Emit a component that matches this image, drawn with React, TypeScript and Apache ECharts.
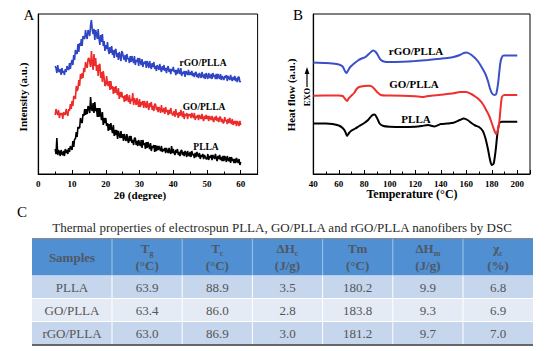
import React, { useEffect, useRef } from 'react';
import * as echarts from 'echarts';

// ---------- Panel A: XRD (2θ in degrees, intensity a.u.) ----------
const twoTheta = [
  5, 5.25, 5.5, 5.75, 6, 6.25, 6.5, 6.75, 7, 7.25, 7.5, 7.75, 8, 8.25, 8.5, 8.75, 9, 9.25, 9.5, 9.75,
  10, 10.25, 10.5, 10.75, 11, 11.25, 11.5, 11.75, 12, 12.25, 12.5, 12.75, 13, 13.25, 13.5, 13.75, 14, 14.25, 14.5, 14.75,
  15, 15.25, 15.5, 15.75, 16, 16.25, 16.5, 16.75, 17, 17.25, 17.5, 17.75, 18, 18.25, 18.5, 18.75, 19, 19.25, 19.5, 19.75,
  20, 20.25, 20.5, 20.75, 21, 21.25, 21.5, 21.75, 22, 22.25, 22.5, 22.75, 23, 23.25, 23.5, 23.75, 24, 24.25, 24.5, 24.75,
  25, 25.25, 25.5, 25.75, 26, 26.25, 26.5, 26.75, 27, 27.25, 27.5, 27.75, 28, 28.25, 28.5, 28.75, 29, 29.25, 29.5, 29.75,
  30, 30.25, 30.5, 30.75, 31, 31.25, 31.5, 31.75, 32, 32.25, 32.5, 32.75, 33, 33.25, 33.5, 33.75, 34, 34.25, 34.5, 34.75,
  35, 35.25, 35.5, 35.75, 36, 36.25, 36.5, 36.75, 37, 37.25, 37.5, 37.75, 38, 38.25, 38.5, 38.75, 39, 39.25, 39.5, 39.75,
  40, 40.25, 40.5, 40.75, 41, 41.25, 41.5, 41.75, 42, 42.25, 42.5, 42.75, 43, 43.25, 43.5, 43.75, 44, 44.25, 44.5, 44.75,
  45, 45.25, 45.5, 45.75, 46, 46.25, 46.5, 46.75, 47, 47.25, 47.5, 47.75, 48, 48.25, 48.5, 48.75, 49, 49.25, 49.5, 49.75,
  50, 50.25, 50.5, 50.75, 51, 51.25, 51.5, 51.75, 52, 52.25, 52.5, 52.75, 53, 53.25, 53.5, 53.75, 54, 54.25, 54.5, 54.75,
  55, 55.25, 55.5, 55.75, 56, 56.25, 56.5, 56.75, 57, 57.25, 57.5, 57.75, 58, 58.25, 58.5, 58.75, 59, 59.25, 59.5, 59.75,
  60,
];
const xrdPLLA = [
  24, 19, 35, 18, 23, 21, 17, 23, 19, 18, 22, 17, 24, 20, 23, 19, 25, 21, 27, 25,
  23, 32, 26, 34, 34, 41, 36, 46, 45, 45, 55, 51, 50, 59, 57, 64, 58, 64, 59, 67,
  65, 60, 76, 64, 62, 70, 60, 71, 62, 65, 56, 65, 56, 65, 58, 53, 61, 48, 55, 50,
  55, 47, 50, 42, 49, 43, 50, 44, 40, 48, 37, 43, 38, 43, 34, 42, 38, 35, 42, 35,
  39, 32, 39, 35, 32, 39, 33, 30, 37, 32, 37, 30, 33, 28, 35, 35, 28, 32, 27, 33,
  29, 27, 33, 25, 33, 28, 30, 24, 31, 25, 31, 27, 24, 30, 22, 27, 25, 28, 21, 28,
  22, 27, 23, 27, 24, 22, 27, 21, 24, 22, 25, 20, 25, 22, 20, 25, 21, 19, 27, 20,
  24, 20, 18, 23, 20, 24, 18, 21, 17, 22, 23, 18, 21, 17, 22, 20, 16, 22, 18, 17,
  21, 16, 22, 18, 19, 15, 20, 16, 21, 18, 16, 20, 14, 18, 16, 19, 14, 18, 16, 14,
  14, 19, 13, 17, 15, 18, 13, 18, 16, 14, 19, 15, 12, 17, 14, 18, 13, 16, 12, 17,
  12, 17, 15, 11, 17, 13, 12, 16, 10, 16, 12, 14, 10, 14, 10, 15, 12, 10, 14, 8,
  11,
];
const xrdGOPLLA = [
  58, 64, 60, 58, 63, 55, 60, 58, 60, 54, 61, 59, 58, 64, 60, 57, 64, 62, 69, 64,
  72, 67, 77, 76, 74, 87, 82, 84, 93, 87, 99, 94, 100, 95, 105, 101, 111, 107, 105, 114,
  115, 111, 106, 122, 109, 103, 119, 107, 115, 102, 108, 97, 108, 109, 95, 101, 91, 102, 96, 87,
  88, 97, 89, 87, 92, 83, 92, 84, 87, 79, 86, 80, 87, 81, 78, 85, 74, 81, 76, 81,
  75, 77, 71, 78, 72, 79, 74, 71, 78, 69, 74, 72, 80, 68, 75, 72, 68, 75, 70, 66,
  74, 66, 71, 68, 72, 65, 72, 68, 65, 72, 67, 63, 70, 66, 71, 63, 67, 62, 69, 69,
  63, 66, 61, 66, 64, 60, 68, 62, 61, 65, 59, 66, 61, 63, 58, 63, 59, 65, 61, 58,
  58, 62, 56, 64, 58, 60, 55, 61, 57, 63, 59, 56, 62, 54, 59, 57, 60, 54, 59, 57,
  59, 55, 60, 57, 55, 60, 53, 57, 55, 58, 53, 58, 56, 54, 59, 55, 52, 57, 54, 58,
  54, 57, 52, 57, 55, 53, 57, 53, 51, 56, 53, 57, 52, 55, 51, 56, 56, 51, 54, 50,
  50, 56, 52, 53, 49, 54, 50, 55, 51, 49, 54, 48, 52, 49, 52, 47, 52, 50, 47, 52,
  48,
];
const xrdRGOPLLA = [
  107, 105, 100, 108, 102, 101, 104, 98, 105, 100, 102, 98, 104, 101, 107, 104, 103, 110, 104, 110,
  113, 108, 118, 113, 123, 120, 119, 129, 121, 130, 127, 134, 127, 137, 135, 134, 143, 137, 134, 143,
  141, 137, 148, 153, 143, 139, 144, 133, 143, 139, 134, 144, 134, 128, 138, 131, 139, 127, 132, 122,
  128, 124, 131, 123, 119, 126, 120, 127, 118, 123, 115, 123, 124, 116, 120, 113, 121, 117, 112, 122,
  120, 115, 113, 118, 111, 119, 114, 115, 110, 117, 111, 117, 113, 110, 117, 108, 113, 111, 115, 107,
  115, 111, 108, 114, 106, 111, 109, 112, 105, 112, 109, 105, 112, 107, 104, 110, 106, 111, 104, 107,
  102, 108, 106, 103, 109, 104, 101, 107, 103, 108, 102, 105, 100, 105, 107, 101, 104, 99, 104, 102,
  106, 101, 103, 98, 103, 99, 105, 101, 99, 105, 97, 101, 99, 102, 96, 102, 100, 98, 103, 98,
  101, 98, 102, 97, 100, 96, 100, 101, 96, 99, 95, 100, 98, 95, 101, 97, 95, 99, 94, 100,
  97, 94, 100, 96, 95, 99, 94, 100, 96, 98, 94, 99, 94, 99, 96, 94, 99, 93, 97, 95,
  93, 97, 95, 98, 92, 97, 95, 93, 98, 94, 92, 96, 93, 97, 92, 95, 91, 96, 96, 91,
  92,
];

// ---------- Panel B: DSC (temperature °C, heat flow a.u.) ----------
const dscTempPLLA = [40, 50, 55, 60, 63, 65, 66.5, 68, 70, 73, 76, 80, 83, 86, 88, 90, 92, 95, 100, 110, 120, 125, 130, 135, 140, 145, 150, 155, 158, 161, 164, 167, 170, 173, 175, 177, 178.5, 180, 181.5, 183, 184.5, 186, 188, 200];
const dscFlowPLLA = [49.5, 49.5, 49, 47.5, 45, 41.5, 37, 40, 42.5, 44.5, 47, 50, 53, 57.5, 58.5, 55, 49.5, 47, 46.3, 46, 46.3, 47, 48, 46.5, 49, 49.5, 50.3, 53, 54.5, 53, 50, 47.5, 46, 42, 35, 24, 14, 8, 9.5, 22, 40, 50, 51.3, 51.3];
const dscTempGOPLLA = [40, 55, 60, 63, 65, 66.5, 68, 70, 72, 74, 76, 80, 84, 86, 88, 90, 93, 97, 100, 110, 120, 125, 130, 140, 150, 155, 160, 164, 167, 170, 173, 176, 178, 180, 182, 183.5, 185, 186, 187, 188, 190, 200];
const dscFlowGOPLLA = [77.3, 77.5, 77.5, 77, 74, 72, 75, 77.5, 80, 84, 86, 87, 87.2, 86.5, 84, 81, 78, 77.5, 77.5, 77.3, 76.7, 76, 77, 78.3, 79.7, 81, 81, 79, 76.5, 73.5, 69, 62, 57, 50, 42.5, 39, 44, 52, 66, 76, 78, 78];
const dscTempRGOPLLA = [40, 50, 55, 60, 63, 65, 66, 67.5, 69, 72, 75, 78, 81, 84, 87, 89, 91, 93, 96, 100, 110, 120, 130, 140, 145, 150, 155, 158, 160, 163, 166, 169, 172, 175, 177, 178.5, 180, 182, 183.5, 185, 186, 187, 188.5, 190, 200];
const dscFlowRGOPLLA = [110.5, 110, 109.5, 108.5, 106.5, 101.5, 100, 103, 106, 109.5, 112.5, 114.5, 116, 119.5, 122.5, 121, 117, 113, 111.3, 111, 111.3, 112, 113, 114.3, 115, 116, 118, 120, 120.5, 119, 116, 112, 106, 99, 92, 85, 80, 78, 79, 90, 102, 112, 117, 117.5, 117.5];

// ---------- Panel C: table ----------
const tableHeaderMain = ['Samples', 'T', 'T', 'ΔH', 'Tm', 'ΔH', 'χ'];
const tableHeaderSub = ['', 'g', 'c', 'c', '', 'm', 'c'];
const tableHeaderUnit = ['', '(°C)', '(°C)', '(J/g)', '(°C)', '(J/g)', '(%)'];
const tableSamples = ['PLLA', 'GO/PLLA', 'rGO/PLLA'];
const tableTg = ['63.9', '63.4', '63.0'];
const tableTc = ['88.9', '86.0', '86.9'];
const tableDHc = ['3.5', '2.8', '3.0'];
const tableTm = ['180.2', '183.8', '181.2'];
const tableDHm = ['9.9', '9.3', '9.7'];
const tableXc = ['6.8', '6.9', '7.0'];
const tableCaption = 'Thermal properties of electrospun PLLA, GO/PLLA and rGO/PLLA nanofibers by DSC';

const SERIF = 'Liberation Serif';
const BLUE = '#2f45c4';
const RED = '#ee2b2b';
const BLACK = '#000000';

function zip(xs: number[], ys: number[]) {
  return xs.map((x, i) => [x, ys[i]]);
}

function text(x: number, y: number, t: string, size: number, opts: any = {}) {
  return {
    type: 'text',
    x,
    y,
    rotation: opts.rotation || 0,
    silent: true,
    style: {
      text: t,
      fontFamily: SERIF,
      fontSize: size,
      fontWeight: opts.weight || 'normal',
      fill: opts.fill || '#000',
      align: opts.align || 'center',
      verticalAlign: 'middle',
      rich: opts.rich,
    },
  };
}

function buildOption() {
  const graphic: any[] = [];
  // panel letters
  graphic.push(text(29, 15, 'A', 15));
  graphic.push(text(298, 15, 'B', 15));
  graphic.push(text(22, 212, 'C', 15));
  // axis titles
  graphic.push(text(140, 195, '2θ (degree)', 11, { weight: 'bold' }));
  graphic.push(text(412, 194, 'Temperature (°C)', 12, { weight: 'bold' }));
  graphic.push(text(22.5, 97, 'Intensity (a.u.)', 11, { weight: 'bold', rotation: Math.PI / 2 }));
  graphic.push(text(291, 95, 'Heat flow (a.u.)', 11, { weight: 'bold', rotation: Math.PI / 2 }));
  // EXO arrow
  graphic.push(text(307, 97, 'EXO', 8.5, { weight: 'bold', rotation: Math.PI / 2 }));
  graphic.push({ type: 'line', silent: true, shape: { x1: 307, y1: 87, x2: 307, y2: 73 }, style: { stroke: '#000', lineWidth: 1.2 } });
  graphic.push({ type: 'polygon', silent: true, shape: { points: [[307, 67], [304.6, 74], [309.4, 74]] }, style: { fill: '#000' } });
  // series labels A
  graphic.push(text(203, 63, 'rGO/PLLA', 9.5, { weight: 'bold' }));
  graphic.push(text(204, 107, 'GO/PLLA', 9.5, { weight: 'bold' }));
  graphic.push(text(206, 147, 'PLLA', 9.5, { weight: 'bold' }));
  // series labels B
  graphic.push(text(416, 50.5, 'rGO/PLLA', 11, { weight: 'bold' }));
  graphic.push(text(414, 83.5, 'GO/PLLA', 11, { weight: 'bold' }));
  graphic.push(text(416, 119, 'PLLA', 11, { weight: 'bold' }));

  // ---------- table ----------
  graphic.push(text(282, 227, tableCaption, 13, { fill: '#2a2a2a' }));
  const cols = [32, 112, 182.2, 252.4, 322.6, 392.8, 463, 533];
  const top = 238.5;
  const headH = 37;
  const rowH = 23;
  const tw = cols[cols.length - 1] - cols[0];
  graphic.push({ type: 'rect', silent: true, shape: { x: cols[0], y: top, width: tw, height: headH }, style: { fill: '#4f8fd2' } });
  const rowFills = ['#c6d6ec', '#e5ebf5', '#c6d6ec'];
  rowFills.forEach((f, r) => {
    graphic.push({ type: 'rect', silent: true, shape: { x: cols[0], y: top + headH + r * rowH, width: tw, height: rowH }, style: { fill: f } });
  });
  for (let c = 1; c < cols.length - 1; c++) {
    graphic.push({ type: 'line', silent: true, shape: { x1: cols[c], y1: top, x2: cols[c], y2: top + headH }, style: { stroke: '#a4c6ea', lineWidth: 1 } });
    graphic.push({ type: 'line', silent: true, shape: { x1: cols[c], y1: top + headH, x2: cols[c], y2: top + headH + 3 * rowH }, style: { stroke: '#ffffff', lineWidth: 1 } });
  }
  for (let r = 1; r < 3; r++) {
    graphic.push({ type: 'line', silent: true, shape: { x1: cols[0], y1: top + headH + r * rowH, x2: cols[7], y2: top + headH + r * rowH }, style: { stroke: '#ffffff', lineWidth: 1 } });
  }
  graphic.push({ type: 'line', silent: true, shape: { x1: cols[0], y1: top, x2: cols[7], y2: top }, style: { stroke: '#8a8a8a', lineWidth: 1 } });
  graphic.push({ type: 'line', silent: true, shape: { x1: cols[0], y1: top + headH + 3 * rowH + 0.5, x2: cols[7], y2: top + headH + 3 * rowH + 0.5 }, style: { stroke: '#666666', lineWidth: 2 } });

  const headColor = '#4f5864';
  const rich = {
    m: { fontSize: 13, fontWeight: 'bold', fontFamily: SERIF, fill: headColor, lineHeight: 18, verticalAlign: 'middle' },
    s: { fontSize: 8, fontWeight: 'bold', fontFamily: SERIF, fill: headColor, lineHeight: 10, verticalAlign: 'bottom' },
  };
  for (let c = 0; c < 7; c++) {
    const cx = (cols[c] + cols[c + 1]) / 2;
    if (!tableHeaderUnit[c]) {
      graphic.push(text(cx, top + 19, tableHeaderMain[c], 13, { weight: 'bold', fill: headColor }));
    } else {
      const sym = tableHeaderSub[c] ? `{m|${tableHeaderMain[c]}}{s|${tableHeaderSub[c]}}` : `{m|${tableHeaderMain[c]}}`;
      graphic.push(text(cx, top + 10, sym, 13, { weight: 'bold', fill: headColor, rich }));
      graphic.push(text(cx, top + 27, tableHeaderUnit[c], 13, { weight: 'bold', fill: headColor }));
    }
  }
  const columns = [tableSamples, tableTg, tableTc, tableDHc, tableTm, tableDHm, tableXc];
  for (let r = 0; r < 3; r++) {
    for (let c = 0; c < 7; c++) {
      const cx = (cols[c] + cols[c + 1]) / 2;
      graphic.push(text(cx, top + headH + r * rowH + rowH / 2 + 0.5, columns[c][r], 13, { fill: '#555555' }));
    }
  }

  const axisLabel = { fontFamily: SERIF, fontWeight: 'bold', fontSize: 9, color: '#000', margin: 5, showMaxLabel: false };
  const xAxisCommon = {
    type: 'value',
    axisLine: { show: true, onZero: false, lineStyle: { color: '#000', width: 1.2 } },
    axisTick: { show: true, inside: true, length: 4, lineStyle: { color: '#000', width: 1 } },
    minorTick: { show: true, splitNumber: 2, length: 2.5, lineStyle: { color: '#000', width: 1 } },
    splitLine: { show: false },
    axisLabel,
  };
  const yAxisCommon = {
    type: 'value',
    min: -1,
    max: 159,
    axisLine: { show: true, onZero: false, lineStyle: { color: '#000', width: 1.2 } },
    axisTick: { show: false },
    axisLabel: { show: false },
    splitLine: { show: false },
  };

  const line = (name: string, x: number, data: number[][], color: string, width: number, smooth: any) => ({
    name,
    type: 'line',
    xAxisIndex: x,
    yAxisIndex: x,
    data,
    symbol: 'none',
    showSymbol: false,
    smooth,
    silent: true,
    lineStyle: { color, width },
  });

  return {
    animation: false,
    backgroundColor: '#ffffff',
    grid: [
      { left: 38.3, top: 14, width: 219.3, height: 160, show: true, borderColor: '#000', borderWidth: 1, backgroundColor: 'transparent' },
      { left: 313.3, top: 14, width: 216.7, height: 160, show: true, borderColor: '#000', borderWidth: 1, backgroundColor: 'transparent' },
    ],
    xAxis: [
      { ...xAxisCommon, gridIndex: 0, min: 0, max: 65, interval: 10 },
      { ...xAxisCommon, gridIndex: 1, min: 40, max: 210, interval: 20 },
    ],
    yAxis: [
      { ...yAxisCommon, gridIndex: 0 },
      { ...yAxisCommon, gridIndex: 1 },
    ],
    series: [
      line('PLLA XRD', 0, zip(twoTheta, xrdPLLA), BLACK, 1.6, false),
      line('GO/PLLA XRD', 0, zip(twoTheta, xrdGOPLLA), RED, 1.6, false),
      line('rGO/PLLA XRD', 0, zip(twoTheta, xrdRGOPLLA), BLUE, 1.6, false),
      line('PLLA DSC', 1, zip(dscTempPLLA, dscFlowPLLA), BLACK, 2, 0.25),
      line('GO/PLLA DSC', 1, zip(dscTempGOPLLA, dscFlowGOPLLA), '#f03030', 2, 0.25),
      line('rGO/PLLA DSC', 1, zip(dscTempRGOPLLA, dscFlowRGOPLLA), '#3a50c8', 2, 0.25),
    ],
    graphic,
  };
}

export default function App() {
  const ref = useRef<HTMLDivElement>(null);
  useEffect(() => {
    if (!ref.current) return;
    const chart = echarts.init(ref.current, undefined, { renderer: 'svg' });
    chart.setOption(buildOption() as any);
    return () => chart.dispose();
  }, []);
  return (
    <div
      ref={ref}
      style={{ position: 'absolute', left: 0, top: 0, width: 554, height: 351, background: '#fff' }}
    />
  );
}
